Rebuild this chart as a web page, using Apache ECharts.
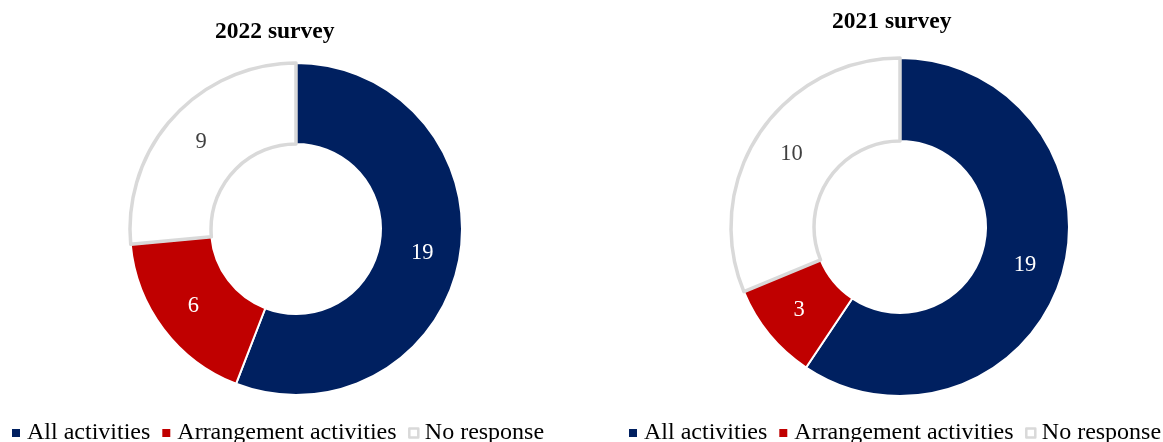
<!DOCTYPE html>
<html>
<head>
<meta charset="utf-8">
<script src="https://cdn.jsdelivr.net/npm/echarts@6/dist/echarts.min.js"></script>
<style>
html,body{margin:0;padding:0;background:#fff;}
#c{width:1163px;height:442px;}
</style>
</head>
<body>
<div id="c"></div>
<script>
const categories = ['All activities', 'Arrangement activities', 'No response'];
const values2022 = [19, 6, 9];
const values2021 = [19, 3, 10];
const titles = ['2022 survey', '2021 survey'];

const FONT = "'Liberation Serif', 'Times New Roman', serif";
const fills = ['#002060', '#C00000', '#FFFFFF'];
const labelColors = ['#FFFFFF', '#FFFFFF', '#404040'];

function pieData(values) {
  return categories.map((name, i) => ({
    name: name,
    value: values[i],
    itemStyle: i === 2
      ? { color: '#FFFFFF', borderColor: '#D9D9D9', borderWidth: 3.5 }
      : { color: fills[i], borderColor: '#FFFFFF', borderWidth: 2 },
    label: { color: labelColors[i] }
  }));
}

const smallSquare = 'path://M0,0M12,12M2,2h8v8h-8z';
const boxSquare = 'path://M0,0M12,12M1.5,1.5h9v9h-9z';
const legendData = categories.map((name, i) => ({
  name: name,
  icon: i === 2 ? boxSquare : smallSquare,
  itemStyle: i === 2
    ? { color: '#FFFFFF', borderColor: '#D9D9D9', borderWidth: 2.5 }
    : { color: fills[i], borderWidth: 0 }
}));

function legend(left) {
  return {
    left: left,
    top: 416,
    width: 570,
    orient: 'horizontal',
    itemWidth: 12,
    itemHeight: 12,
    itemGap: 10,
    selectedMode: false,
    data: legendData,
    textStyle: { fontFamily: FONT, fontSize: 24, color: '#000' }
  };
}

function pie(center, radius, values) {
  return {
    type: 'pie',
    center: center,
    radius: radius,
    startAngle: 90,
    clockwise: true,
    avoidLabelOverlap: false,
    label: { show: true, position: 'inside', formatter: '{c}', fontFamily: FONT, fontSize: 22.5 },
    labelLine: { show: false },
    emphasis: { disabled: true },
    data: pieData(values)
  };
}

const chart = echarts.init(document.getElementById('c'), null, { renderer: 'canvas' });
chart.setOption({
  animation: false,
  backgroundColor: '#FFFFFF',
  title: [
    { text: titles[0], left: 210, top: 15, textStyle: { fontFamily: FONT, fontSize: 23.5, fontWeight: 'bold', color: '#000' } },
    { text: titles[1], left: 827, top: 5, textStyle: { fontFamily: FONT, fontSize: 23.5, fontWeight: 'bold', color: '#000' } }
  ],
  legend: [legend(5), legend(622)],
  series: [
    pie([296, 229], [85, 166], values2022),
    pie([900, 227], [86, 169], values2021)
  ]
});
</script>
</body>
</html>
